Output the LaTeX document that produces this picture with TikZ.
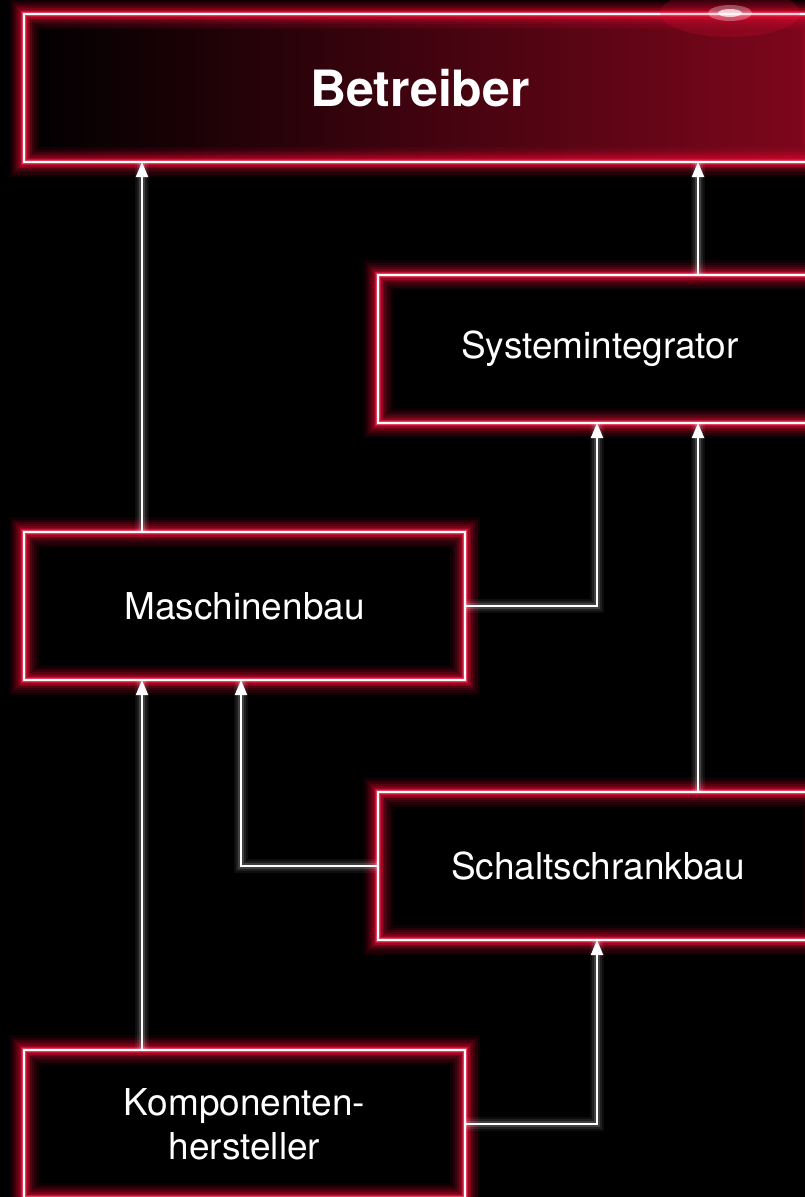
\documentclass[tikz,border=0pt]{standalone}
\usepackage{fontspec}
\setmainfont{TeX Gyre Heros}
\usetikzlibrary{arrows.meta}
\definecolor{neon}{RGB}{232,12,52}

\begin{document}
\begin{tikzpicture}[x=1pt, y=-1pt,
  box/.style={minimum width=441pt, minimum height=148pt, inner sep=0pt,
    outer sep=0pt, text=white, align=center,
    font=\fontsize{37}{44}\selectfont,
    postaction={draw=neon, line width=30pt, draw opacity=.07},
    postaction={draw=neon, line width=25pt, draw opacity=.09},
    postaction={draw=neon, line width=20pt, draw opacity=.12},
    postaction={draw=neon, line width=16pt, draw opacity=.16},
    postaction={draw=neon, line width=12pt, draw opacity=.22},
    postaction={draw=neon, line width=9pt, draw opacity=.3},
    postaction={draw=neon!90!white, line width=6pt, draw opacity=.5},
    postaction={draw=neon!75!white, line width=4pt, draw opacity=.8},
    postaction={draw=white, line width=2.2pt}},
  flow/.style={white, line width=2.2pt, -{Triangle[length=15pt,width=12pt]},
    preaction={draw=white, line width=14pt, draw opacity=.05, arrows=-},
    preaction={draw=white, line width=10pt, draw opacity=.08, arrows=-},
    preaction={draw=white, line width=6pt, draw opacity=.15, arrows=-}}]
\fill[black] (0,0) rectangle (805,1197);
\useasboundingbox (0,0) rectangle (805,1197);
\clip (0,0) rectangle (805,1197);

\coordinate (laneA) at (142,0);
\coordinate (laneB) at (241,0);
\coordinate (laneC) at (597,0);
\coordinate (laneD) at (698,0);

\node[box, minimum width=792pt, left color=black, middle color=neon!12!black,
  right color=neon!55!black, font=\bfseries\fontsize{50}{60}\selectfont]
  (betr) at (420,88) {Betreiber};
\node[box, minimum width=444pt] (sys) at (600,349) {Systemintegrator};
\node[box] (masch) at (244.5,606) {Maschinenbau};
\node[box, minimum width=440pt] (schalt) at (598,866) {Schaltschrankbau};
\node[box] (kompo) at (244.5,1124) {Komponenten-\\hersteller};

\fill[neon, opacity=.2] (730,13) ellipse (70 and 24);
\fill[white, opacity=.3] (730,13) ellipse (22 and 8);
\fill[white, opacity=.7] (730,13) ellipse (12 and 4);

\draw[flow] (masch.north -| laneA) -- (betr.south -| laneA);
\draw[flow] (sys.north -| laneD) -- (betr.south -| laneD);
\draw[flow] (masch.east) -| (sys.south -| laneC);
\draw[flow] (schalt.north -| laneD) -- (sys.south -| laneD);
\draw[flow] (schalt.west) -| (masch.south -| laneB);
\draw[flow] (kompo.north -| laneA) -- (masch.south -| laneA);
\draw[flow] (kompo.east) -| (schalt.south -| laneC);
\end{tikzpicture}
\end{document}
